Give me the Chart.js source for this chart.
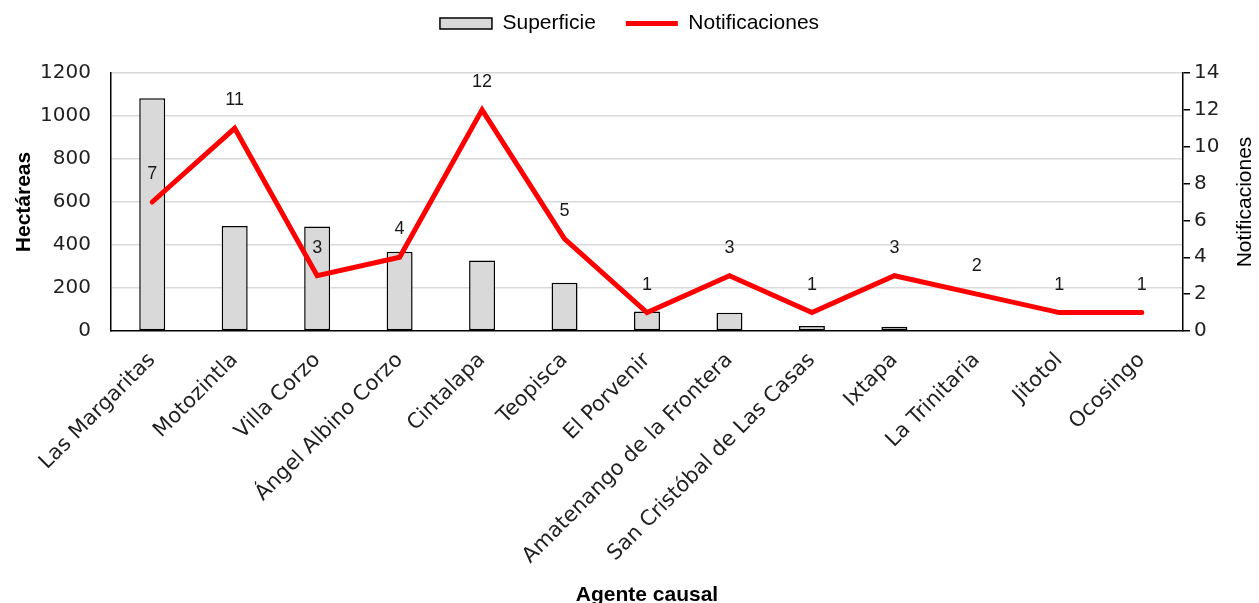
<!DOCTYPE html>
<html lang="es">
<head>
<meta charset="utf-8">
<title>Superficie y notificaciones por municipio</title>
<script src="https://cdn.jsdelivr.net/npm/chart.js@4/dist/chart.umd.min.js"></script>
<style>
  html, body { margin: 0; padding: 0; background: #ffffff; }
  #wrap { position: relative; width: 1259px; height: 603px; }
</style>
</head>
<body>
<div id="wrap"><canvas id="chart" width="1259" height="603"></canvas></div>
<script>
// Municipios (eje de categorías)
const municipios = [
  'Las Margaritas', 'Motozintla', 'Villa Corzo', 'Ángel Albino Corzo', 'Cintalapa',
  'Teopisca', 'El Porvenir', 'Amatenango de la Frontera', 'San Cristóbal de Las Casas',
  'Ixtapa', 'La Trinitaria', 'Jitotol', 'Ocosingo'
];
// Superficie afectada (hectáreas), eje izquierdo
const superficie = [1083, 488, 486, 369, 328, 224, 91, 85, 23, 20, 3, 1, 1];
// Número de notificaciones, eje derecho
const notificaciones = [7, 11, 3, 4, 12, 5, 1, 3, 1, 3, 2, 1, 1];

// Rangos de los ejes
const hectareasMax = 1200, hectareasPaso = 200;
const notifMax = 14, notifPaso = 2;

const sansFamily = '"Liberation Sans", Arial, sans-serif';
const tickFamily = '"DejaVu Sans", sans-serif';

// Etiquetas con el número de notificaciones sobre cada punto de la línea
const etiquetasNotificaciones = {
  id: 'etiquetasNotificaciones',
  afterDatasetsDraw(chart) {
    const idx = chart.data.datasets.findIndex(d => d.type === 'line');
    const meta = chart.getDatasetMeta(idx);
    const values = chart.data.datasets[idx].data;
    const ctx = chart.ctx;
    ctx.save();
    ctx.font = '18px ' + sansFamily;
    ctx.fillStyle = '#1a1a1a';
    ctx.textAlign = 'center';
    ctx.textBaseline = 'middle';
    meta.data.forEach((pt, i) => {
      ctx.fillText(String(values[i]), pt.x, pt.y - 28);
    });
    ctx.restore();
  }
};

// Título del eje derecho, leído de abajo hacia arriba
const tituloEjeDerecho = {
  id: 'tituloEjeDerecho',
  afterDraw(chart) {
    const area = chart.chartArea;
    const ctx = chart.ctx;
    ctx.save();
    ctx.translate(1245, (area.top + area.bottom) / 2);
    ctx.rotate(-Math.PI / 2);
    ctx.font = '21px ' + sansFamily;
    ctx.fillStyle = '#000000';
    ctx.textAlign = 'center';
    ctx.textBaseline = 'middle';
    ctx.fillText('Notificaciones', 0, 0);
    ctx.restore();
  }
};

new Chart(document.getElementById('chart'), {
  data: {
    labels: municipios,
    datasets: [
      {
        type: 'bar',
        label: 'Superficie',
        data: superficie,
        yAxisID: 'yHa',
        backgroundColor: '#d9d9d9',
        borderColor: '#000000',
        borderWidth: 1.5,
        borderSkipped: false,
        barPercentage: 0.315,
        categoryPercentage: 1,
        order: 2
      },
      {
        type: 'line',
        label: 'Notificaciones',
        data: notificaciones,
        yAxisID: 'yNotif',
        borderColor: '#ff0000',
        backgroundColor: '#ff0000',
        borderWidth: 5,
        borderCapStyle: 'round',
        borderJoinStyle: 'miter',
        pointRadius: 0,
        tension: 0,
        order: 1
      }
    ]
  },
  options: {
    responsive: false,
    animation: false,
    layout: { padding: { top: -17, left: 0, right: 0, bottom: 0 } },
    plugins: {
      legend: {
        position: 'top',
        labels: {
          usePointStyle: true,
          pointStyleWidth: 52,
          boxHeight: 11,
          padding: 30,
          color: '#000000',
          font: { family: sansFamily, size: 21 },
          generateLabels(chart) {
            return chart.data.datasets.map((ds, i) => ({
              text: ds.label,
              datasetIndex: i,
              fillStyle: ds.type === 'bar' ? ds.backgroundColor : 'rgba(0,0,0,0)',
              strokeStyle: ds.borderColor,
              lineWidth: ds.type === 'bar' ? 1.5 : 5,
              pointStyle: ds.type === 'bar' ? 'rect' : 'line',
              fontColor: '#000000',
              hidden: false
            }));
          }
        }
      },
      // espacio vacío entre la leyenda y el área del gráfico
      subtitle: {
        display: true,
        position: 'top',
        weight: 500,
        text: '',
        padding: 0,
        font: { size: 10, lineHeight: '29px' }
      },
      tooltip: { enabled: false }
    },
    scales: {
      x: {
        offset: true,
        grid: { display: true, drawOnChartArea: false, drawTicks: false },
        border: { display: true, color: '#000000', width: 1.5 },
        ticks: {
          autoSkip: false,
          minRotation: 45,
          maxRotation: 45,
          padding: 17,
          color: '#1f1f1f',
          font: { family: tickFamily, size: 21 }
        },
        title: {
          display: true,
          text: 'Agente causal',
          color: '#000000',
          font: { family: sansFamily, size: 21, weight: 'bold', lineHeight: 1 },
          padding: { top: 0, bottom: -3 }
        },
        afterFit(scale) { scale.height = 272; }
      },
      yHa: {
        type: 'linear',
        position: 'left',
        min: 0,
        max: hectareasMax,
        ticks: {
          stepSize: hectareasPaso,
          padding: 20,
          color: '#1f1f1f',
          font: { family: tickFamily, size: 20 },
          callback: v => String(v)
        },
        grid: {
          drawTicks: false,
          lineWidth: 1.5,
          color: ctx => (ctx.tick && ctx.tick.value === 0) ? 'rgba(0,0,0,0)' : '#d9d9d9'
        },
        border: { display: true, color: '#000000', width: 1.5 },
        title: {
          display: true,
          text: 'Hectáreas',
          color: '#000000',
          font: { family: sansFamily, size: 21, weight: 'bold' },
          padding: { top: 12, bottom: 0 }
        },
        afterFit(scale) { scale.width = 111; }
      },
      yNotif: {
        type: 'linear',
        position: 'right',
        min: 0,
        max: notifMax,
        ticks: {
          stepSize: notifPaso,
          padding: 4,
          color: '#1f1f1f',
          font: { family: tickFamily, size: 20 },
          callback: v => String(v)
        },
        grid: {
          drawOnChartArea: false,
          drawTicks: true,
          tickLength: 7,
          color: '#000000',
          lineWidth: 1.5
        },
        border: { display: true, color: '#000000', width: 1.5 },
        title: { display: false },
        afterFit(scale) { scale.width = 76; }
      }
    }
  },
  plugins: [etiquetasNotificaciones, tituloEjeDerecho]
});
</script>
</body>
</html>
